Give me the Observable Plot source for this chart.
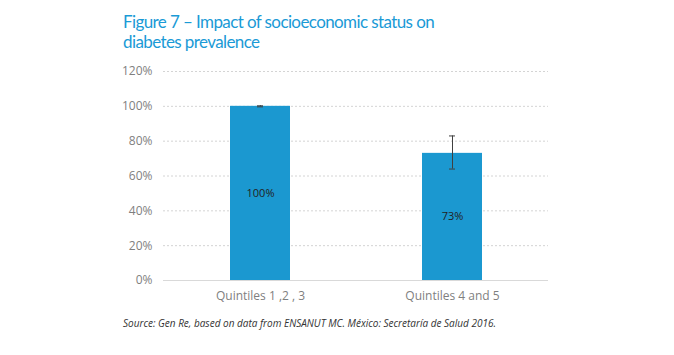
<!DOCTYPE html>
<html><head><meta charset="utf-8">
<script src="https://cdn.jsdelivr.net/npm/d3@7"></script>
<script src="https://cdn.jsdelivr.net/npm/@observablehq/plot@0.6"></script>
<style>
body{margin:0;background:#fff;width:674px;height:355px;position:relative;overflow:hidden;font-family:"Open Sans",sans-serif;}
.title{position:absolute;left:123px;color:#1a9ad6;font-size:17px;line-height:20px;letter-spacing:-0.6px;font-family:Lato,sans-serif;white-space:nowrap;}
#t1{top:12px;} #t2{top:32px;}
#chart{position:absolute;left:0;top:55px;}
#caption{position:absolute;left:123px;top:316px;color:#333;font-size:10px;font-style:italic;letter-spacing:0px;}
</style></head>
<body>
<div class="title" id="t1">Figure 7 – Impact of socioeconomic status on</div>
<div class="title" id="t2">diabetes prevalence</div>
<div id="chart"></div>
<div id="caption">Source: Gen Re, based on data from ENSANUT MC. México: Secretaría de Salud 2016.</div>
<script>
const categories = ["Quintiles 1 ,2 , 3", "Quintiles 4 and 5"];
const values = [100, 73];
const errLow = [99.7, 64];
const errHigh = [100.3, 83];
const labels = ["100%", "73%"];
const yTicks = [0, 20, 40, 60, 80, 100, 120];

const data = categories.map((c, i) => ({cat: c, v: values[i], lo: errLow[i], hi: errHigh[i], label: labels[i]}));

const chart = Plot.plot({
  width: 674,
  height: 255,
  marginTop: 16,
  marginBottom: 30,
  marginLeft: 163,
  marginRight: 126,
  style: {fontFamily: "Open Sans, sans-serif", fontSize: "12px", color: "#7f7f7f", background: "#fff"},
  x: {domain: categories, paddingInner: 0.69, paddingOuter: 0.345, label: null},
  y: {domain: [0, 120], label: null},
  marks: [
    Plot.gridY(yTicks.filter(d => d > 0), {stroke: "#d4d4d4", strokeOpacity: 1, strokeDasharray: "2,2"}),
    Plot.ruleY([0], {stroke: "#d9d9d9", strokeWidth: 1}),
    Plot.barY(data, {x: "cat", y: "v", fill: "#1b98d0"}),
    Plot.ruleX(data, {x: "cat", y1: "lo", y2: "hi", stroke: "#404040", strokeWidth: 1}),
    Plot.tickY(data, {x: "cat", y: "lo", stroke: "#404040", insetLeft: 27, insetRight: 27}),
    Plot.tickY(data, {x: "cat", y: "hi", stroke: "#404040", insetLeft: 27, insetRight: 27}),
    Plot.text(data, {x: "cat", y: d => d.v / 2, text: "label", fill: "#222", fontSize: 11}),
    Plot.axisY({ticks: yTicks, tickFormat: d => d + "%", tickSize: 0, tickPadding: 11, fill: "#7f7f7f", fontSize: 12}),
    Plot.axisX({tickSize: 0, tickPadding: 11, fill: "#7f7f7f", fontSize: 12})
  ]
});
document.getElementById("chart").appendChild(chart);
</script>
</body></html>
